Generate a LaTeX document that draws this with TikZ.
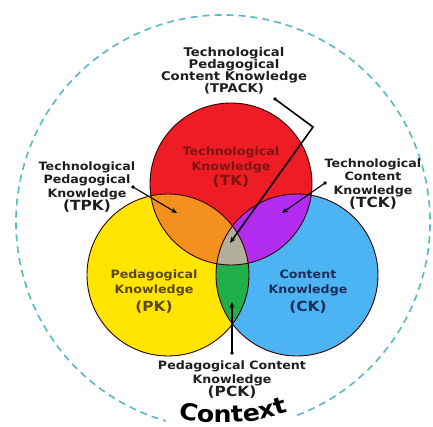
\documentclass[tikz,border=0pt]{standalone}
\usepackage{fontspec}
\usepackage{xcolor}
\usetikzlibrary{arrows.meta,decorations.text}
\newfontfamily\vennfont{DejaVu Sans}[FakeStretch=1.1]

\definecolor{tkred}{HTML}{EE1C24}
\definecolor{pkyellow}{HTML}{FFE500}
\definecolor{ckblue}{HTML}{4CB4F2}
\definecolor{tpkorange}{HTML}{F4901E}
\definecolor{tckpurple}{HTML}{B22CF0}
\definecolor{pckgreen}{HTML}{20B04A}
\definecolor{tpackgray}{HTML}{B0B09C}
\definecolor{contextblue}{HTML}{5AB6C8}
\definecolor{tktext}{HTML}{7E1414}
\definecolor{pktext}{HTML}{5A4810}
\definecolor{cktext}{HTML}{1C2C58}
\definecolor{labeltext}{HTML}{1E1E1E}

\newcommand{\abbr}[1]{{\fontsize{14}{16}\selectfont #1}}

\tikzset{
	outlabel/.style={align=center, inner sep=0pt, text=labeltext,
		font=\vennfont\bfseries\fontsize{11.5}{13.5}\selectfont},
	inlabel/.style={align=center, inner sep=0pt,
		font=\vennfont\bfseries\fontsize{11.5}{15}\selectfont},
	vennline/.style={draw=black!80!red, line width=0.9pt},
	pointer/.style={draw=black, line width=1.1pt, -{Stealth[length=6pt,width=5pt]}},
	contextline/.style={draw=contextblue, line width=1.6pt, dash pattern=on 7pt off 5pt}
}

\begin{document}
\begin{tikzpicture}[x=1pt, y=1pt]
	\useasboundingbox (0,0) rectangle (433,427);
	
	% centres
	\coordinate (ctx) at (223,205);
	\coordinate (tk) at (231,243);
	\coordinate (pk) at (168,152);
	\coordinate (ck) at (297,152);
	
	% outer context circle
	\draw[contextline] (ctx) ++(291:207pt) arc[start angle=291, end angle=614, radius=207pt];
	\path[decorate, decoration={text along path, text align=center,
		text={|\vennfont\bfseries\fontsize{23}{23}\selectfont|Context}}]
		(ctx) ++(252:201pt) arc[start angle=252, end angle=294, radius=201pt];
	
	% the three circles
	\fill[tkred] (tk) circle[radius=81pt];
	\fill[pkyellow] (pk) circle[radius=81pt];
	\fill[ckblue] (ck) circle[radius=81pt];
	
	% overlaps
	\begin{scope}
		\clip (pk) circle[radius=81pt];
		\fill[pckgreen] (ck) circle[radius=81pt];
	\end{scope}
	\begin{scope}
		\clip (tk) circle[radius=81pt];
		\fill[tpkorange] (pk) circle[radius=81pt];
		\fill[tckpurple] (ck) circle[radius=81pt];
		\clip (pk) circle[radius=81pt];
		\fill[tpackgray] (ck) circle[radius=81pt];
	\end{scope}
	
	\draw[vennline] (tk) circle[radius=81pt];
	\draw[vennline] (pk) circle[radius=81pt];
	\draw[vennline] (ck) circle[radius=81pt];
	
	% texts in the circles
	\node[inlabel, text=tktext] (tk-text) at (231,260) {Technological\\Knowledge\\\abbr{(TK)}};
	\node[inlabel, text=pktext] (pk-text) at (154,135) {Pedagogical\\Knowledge\\[3pt]\abbr{(PK)}};
	\node[inlabel, text=cktext] (ck-text) at (308,135) {Content\\Knowledge\\[3pt]\abbr{(CK)}};
	
	% texts outside
	\node[outlabel, font=\vennfont\bfseries\fontsize{12}{12}\selectfont] (tpack-label) at (234,356)
		{Technological\\Pedagogical\\Content Knowledge\\(TPACK)};
	\node[outlabel] (tpk-label) at (87,240) {Technological\\Pedagogical\\Knowledge\\\abbr{(TPK)}};
	\node[outlabel] (tck-label) at (373,243) {Technological\\Content\\Knowledge\\\abbr{(TCK)}};
	\node[outlabel] (pck-label) at (232,47) {Pedagogical Content\\Knowledge\\\abbr{(PCK)}};
	
	% pointers
	\coordinate (tpack-dot) at (275,328);
	\coordinate (tpack-bend) at (313,300);
	\coordinate (tpack-tip) at (230,184);
	\coordinate (tpk-dot) at (133,240);
	\coordinate (tpk-tip) at (177,214);
	\coordinate (tck-dot) at (325,244);
	\coordinate (tck-tip) at (282,214);
	\coordinate (pck-dot) at (232,74);
	\coordinate (pck-tip) at (232,125);
	
	\draw[pointer, line width=1.6pt] (tpack-dot) -- (tpack-bend) -- (tpack-tip);
	\draw[pointer] (tpk-dot) -- (tpk-tip);
	\draw[pointer] (tck-dot) -- (tck-tip);
	\draw[pointer] (pck-dot) -- (pck-tip);
	\foreach \d in {tpack-dot, tpk-dot, tck-dot, pck-dot}
		\fill (\d) circle[radius=1.8pt];
	
\end{tikzpicture}
\end{document}
